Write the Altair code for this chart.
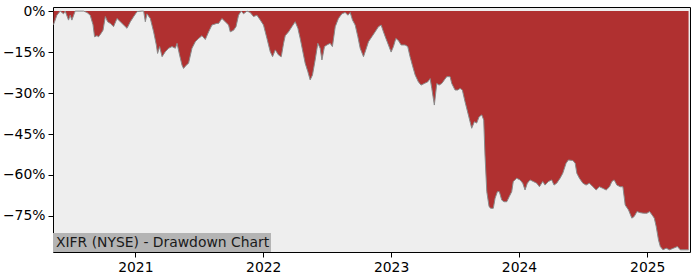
import altair as alt
import pandas as pd

# decimal year of each observation, and drawdown in percent
years = [
    2020.362, 2020.388, 2020.414, 2020.440, 2020.453, 2020.479, 2020.492, 2020.505, 2020.531, 2020.596,
    2020.623, 2020.648, 2020.670, 2020.682, 2020.701, 2020.713, 2020.732, 2020.748, 2020.766, 2020.784,
    2020.805, 2020.830, 2020.857, 2020.883, 2020.909, 2020.935, 2020.961, 2020.987, 2021.013, 2021.052,
    2021.065, 2021.078, 2021.091, 2021.117, 2021.143, 2021.164, 2021.174, 2021.190, 2021.209, 2021.234,
    2021.260, 2021.287, 2021.313, 2021.326, 2021.346, 2021.365, 2021.377, 2021.398, 2021.416, 2021.443,
    2021.469, 2021.495, 2021.521, 2021.547, 2021.573, 2021.599, 2021.638, 2021.651, 2021.677, 2021.703,
    2021.729, 2021.742, 2021.768, 2021.787, 2021.807, 2021.828, 2021.846, 2021.873, 2021.898, 2021.924,
    2021.951, 2021.977, 2022.002, 2022.029, 2022.055, 2022.073, 2022.094, 2022.120, 2022.141, 2022.159,
    2022.172, 2022.198, 2022.224, 2022.250, 2022.271, 2022.289, 2022.307, 2022.328, 2022.349, 2022.367,
    2022.385, 2022.406, 2022.427, 2022.445, 2022.459, 2022.479, 2022.498, 2022.523, 2022.541, 2022.563,
    2022.588, 2022.615, 2022.641, 2022.662, 2022.680, 2022.698, 2022.719, 2022.740, 2022.758, 2022.784,
    2022.802, 2022.823, 2022.849, 2022.875, 2022.901, 2022.922, 2022.940, 2022.959, 2022.979, 2023.000,
    2023.018, 2023.037, 2023.057, 2023.078, 2023.109, 2023.130, 2023.148, 2023.166, 2023.188, 2023.213,
    2023.234, 2023.260, 2023.287, 2023.305, 2023.318, 2023.338, 2023.357, 2023.375, 2023.396, 2023.416,
    2023.435, 2023.461, 2023.474, 2023.500, 2023.521, 2023.539, 2023.557, 2023.578, 2023.604, 2023.630,
    2023.651, 2023.669, 2023.688, 2023.709, 2023.724, 2023.734, 2023.748, 2023.766, 2023.779, 2023.799,
    2023.813, 2023.831, 2023.846, 2023.865, 2023.883, 2023.904, 2023.924, 2023.943, 2023.955, 2023.982,
    2024.008, 2024.029, 2024.047, 2024.065, 2024.086, 2024.112, 2024.138, 2024.159, 2024.185, 2024.203,
    2024.229, 2024.255, 2024.273, 2024.294, 2024.320, 2024.341, 2024.367, 2024.385, 2024.420, 2024.438,
    2024.451, 2024.471, 2024.498, 2024.523, 2024.549, 2024.576, 2024.602, 2024.627, 2024.654, 2024.680,
    2024.706, 2024.724, 2024.742, 2024.763, 2024.789, 2024.810, 2024.828, 2024.854, 2024.880, 2024.898,
    2024.920, 2024.945, 2024.971, 2024.998, 2025.018, 2025.037, 2025.055, 2025.070, 2025.088, 2025.102,
    2025.123, 2025.148, 2025.174, 2025.205, 2025.236, 2025.258, 2025.289, 2025.323,
]
drawdown = [
    -5.0, -1.5, 0.0, -1.0, 0.0, -3.3, -1.5, -3.3, 0.0, 0.0,
    -0.5, -1.5, -5.0, -9.4, -9.0, -9.4, -8.2, -7.0, -2.0, -3.9,
    -4.5, -5.7, -2.7, -3.9, -5.1, -6.3, -3.9, -2.0, -0.2, 0.0,
    0.0, -3.9, -1.0, -2.7, -7.6, -12.4, -15.5, -13.0, -16.7, -14.9,
    -13.6, -13.0, -13.6, -11.8, -16.1, -19.8, -21.0, -19.8, -19.1, -13.6,
    -11.2, -10.0, -9.0, -10.4, -7.6, -5.1, -4.5, -4.5, -2.7, -3.9,
    -5.1, -7.6, -7.0, -5.7, -1.5, 0.0, -1.0, 0.0, -0.5, -2.0,
    -1.5, -3.3, -5.1, -10.0, -14.9, -16.7, -14.2, -16.1, -16.7, -11.8,
    -9.0, -7.6, -5.7, -3.9, -6.3, -10.0, -14.2, -19.1, -22.2, -25.2,
    -23.4, -17.9, -11.8, -13.6, -17.9, -13.0, -12.4, -11.8, -13.0, -5.7,
    -2.7, -1.0, -0.5, -1.5, -0.5, -3.3, -5.1, -9.4, -13.6, -16.7,
    -14.2, -11.2, -9.4, -7.6, -5.7, -5.1, -7.6, -10.0, -12.4, -15.0,
    -13.0, -10.0, -10.8, -12.4, -12.4, -13.0, -16.7, -19.8, -23.4, -25.9,
    -27.1, -26.5, -25.9, -24.7, -28.3, -34.4, -26.5, -27.1, -26.5, -25.2,
    -24.0, -24.0, -26.5, -28.9, -28.9, -28.3, -28.9, -33.2, -38.0, -42.9,
    -40.5, -41.0, -38.7, -38.0, -39.9, -52.7, -66.1, -71.6, -72.2, -72.2,
    -68.5, -66.1, -66.1, -69.2, -69.8, -69.8, -67.9, -66.1, -62.4, -61.2,
    -61.8, -63.0, -65.5, -63.0, -61.8, -62.4, -63.0, -64.3, -62.4, -63.7,
    -62.4, -61.8, -63.7, -63.0, -61.2, -59.4, -55.7, -54.5, -54.7, -55.7,
    -59.4, -61.2, -63.0, -63.7, -63.0, -64.3, -65.5, -64.3, -64.9, -65.5,
    -64.3, -62.4, -61.8, -63.7, -64.3, -64.3, -71.0, -72.8, -75.8, -75.2,
    -73.4, -73.8, -74.0, -74.0, -73.4, -74.6, -75.8, -78.9, -83.8, -86.2,
    -87.4, -86.8, -87.4, -86.8, -86.2, -87.4, -87.4, -87.4,
]
y_ticks = [0, -15, -30, -45, -60, -75]
x_ticks = ["2021-01-01", "2022-01-01", "2023-01-01", "2024-01-01", "2025-01-01"]
label_text = "XIFR (NYSE) - Drawdown Chart"


def to_date(y):
    base = pd.Timestamp(int(y), 1, 1)
    span = (pd.Timestamp(int(y) + 1, 1, 1) - base).days
    return base + pd.Timedelta(days=(y - int(y)) * span)


df = pd.DataFrame({
    "date": [to_date(y) for y in years],
    "dd": drawdown,
    "zero": [0.0] * len(drawdown),
})

W, H = 637, 245
font = "DejaVu Sans"

x_enc = alt.X(
    "date:T",
    scale=alt.Scale(domain=["2020-05-11", "2025-05-03"], nice=False),
    axis=alt.Axis(
        values=[pd.Timestamp(t).isoformat() for t in x_ticks],
        format="%Y", title=None, grid=False, domain=False,
        tickColor="black", tickSize=5, labelPadding=3,
        labelFont=font, labelFontSize=13.9, labelColor="black",
    ),
)
y_enc = alt.Y(
    "dd:Q",
    scale=alt.Scale(domain=[-88.2, 1.5], nice=False, zero=False),
    axis=alt.Axis(
        values=y_ticks, title=None, grid=False, domain=False,
        tickColor="black", tickSize=5, labelPadding=3,
        labelFont=font, labelFontSize=13.9, labelColor="black",
        labelExpr="datum.value == 0 ? '0%' : '\u2212' + abs(datum.value) + '%'",
    ),
)

area = alt.Chart(df).mark_area(color="#b03030", clip=True, opacity=1).encode(
    x=x_enc, y=y_enc, y2="zero:Q"
)
edge = alt.Chart(df).mark_line(color="#8a8a8a", strokeWidth=1, clip=True).encode(
    x="date:T", y="dd:Q"
)

box = alt.Chart(pd.DataFrame({"t": [label_text]})).mark_rect(color="#b4b4b4").encode(
    x=alt.value(0), x2=alt.value(218), y=alt.value(226), y2=alt.value(245)
)
txt = alt.Chart(pd.DataFrame({"t": [label_text]})).mark_text(
    align="left", baseline="middle", font=font, fontSize=13.9, color="#1a1a1a"
).encode(text="t:N", x=alt.value(3), y=alt.value(235.5))

chart = alt.layer(area, edge, box, txt).properties(
    width=W, height=H,
    autosize=alt.AutoSizeParams(type="none"),
    padding={"left": 53, "top": 7, "right": 10, "bottom": 28},
    background="white",
).configure_view(fill="#eeeeee", stroke="black", strokeWidth=1)

chart.save("out.html", embed_options={"renderer": "svg", "actions": False})
